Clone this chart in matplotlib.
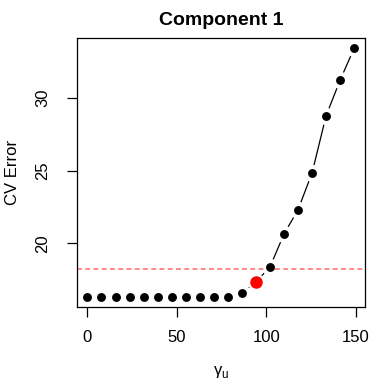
import numpy as np
import matplotlib.pyplot as plt

plt.rcParams['font.family'] = ['Liberation Sans', 'DejaVu Sans']

# gamma_u grid and CV error per value
gamma_u = [0.0, 7.84, 15.68, 23.53, 31.37, 39.21, 47.05, 54.89, 62.74, 70.58,
           78.42, 86.26, 94.11, 101.95, 109.79, 117.63, 125.47, 133.32, 141.16, 149.0]
cv_error = [16.33, 16.33, 16.33, 16.33, 16.33, 16.33, 16.33, 16.33, 16.33, 16.33,
            16.33, 16.57, 17.36, 18.37, 20.64, 22.31, 24.83, 28.77, 31.22, 33.41]
best_idx = 12
threshold = 18.21

x_ticks = [0, 50, 100, 150]
y_ticks = [20, 25, 30]

fig = plt.figure(figsize=(3.84, 3.84), dpi=100)
ax = fig.add_axes([0.2, 0.2013, 0.75, 0.6987])

# line with gaps around the points (like R type="b")
ax.plot(gamma_u, cv_error, '-', color='black', lw=0.9, marker='o', ms=6.4,
        mfc='black', mec='white', mew=6.0, zorder=2)
ax.axhline(threshold, color='#ff6a6a', lw=1.1, dashes=(3.2, 2.2), zorder=2.5)
ax.plot(gamma_u, cv_error, 'o', color='black', ms=6.4, mew=0, zorder=3)
ax.plot(gamma_u[best_idx], cv_error[best_idx], 'o', color='red', ms=9.0, mew=0, zorder=4)

ax.set_xlim(-5.96, 154.96)
ax.set_ylim(15.65, 34.09)
ax.set_xticks(x_ticks)
ax.set_yticks(y_ticks)
ax.tick_params(direction='out', length=7, width=0.9, labelsize=12)
ax.tick_params(axis='x', pad=9.5)
ax.tick_params(axis='y', labelrotation=90, pad=12)
for lab in ax.get_yticklabels():
    lab.set_va('center')
for s in ax.spines.values():
    s.set_linewidth(0.9)

ax.set_title('Component 1', fontsize=14, fontweight='bold', pad=10)
ax.set_xlabel('γ$_{\\mathregular{u}}$', fontsize=12, labelpad=14)
ax.set_ylabel('CV Error', fontsize=12, labelpad=11)

fig.savefig('out.png', dpi=100)
